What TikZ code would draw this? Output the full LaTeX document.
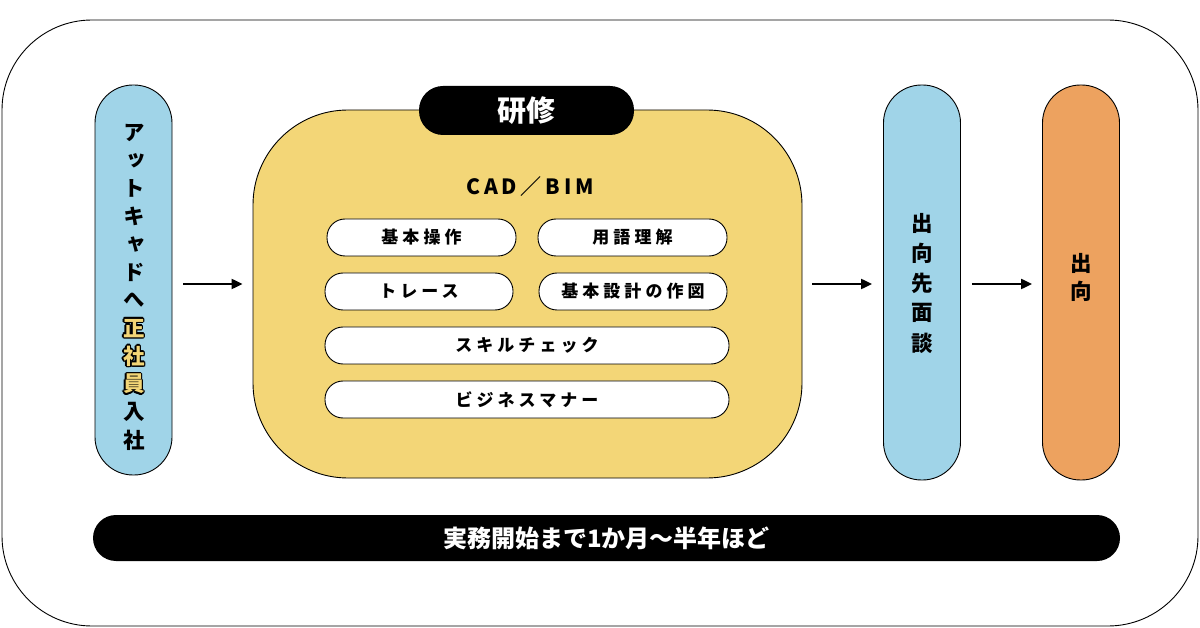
\documentclass[tikz,border=0pt]{standalone}
\usepackage{fontspec}
\setmainfont{Noto Sans CJK JP}
\newfontfamily\vfont{Noto Sans CJK JP}[RawFeature=+vert]
\usetikzlibrary{arrows.meta}
\definecolor{pblue}{HTML}{A0D4E8}
\definecolor{pyellow}{HTML}{F3D677}
\definecolor{porange}{HTML}{EDA25F}
\tikzset{
  frame/.style={draw=black, line width=0.9pt, rounded corners=90pt, minimum width=1196pt, minimum height=606pt},
  vpill/.style={draw=black, line width=0.9pt, rounded corners=38pt, minimum width=77pt},
  pill/.style={draw=black, line width=0.9pt, fill=white, rounded corners=18pt, minimum height=37pt,
    font=\bfseries\fontsize{17}{17}\selectfont\addfontfeatures{LetterSpace=24}},
  vtext/.style={font=\vfont\bfseries\fontsize{21.5}{21.5}\selectfont, inner sep=0pt},
  arr/.style={line width=2.2pt, -{Triangle[length=11pt,width=10pt]}},
}
\begin{document}
\begin{tikzpicture}[x=1pt,y=-1pt]
\useasboundingbox (0,0) rectangle (1200,628);
\node[frame] (F) at (600,323) {};
% left pill
\node[vpill, fill=pblue, minimum height=390pt] (L) at (133.5,280) {};
\foreach \ch [count=\i] in {ア,ッ,ト,キ,ャ,ド,へ} {
  \node[vtext] (t\i) at (134,{133+(\i-1)*27.9}) {\ch};
}
\foreach \ch [count=\i from 11] in {入,社} {
  \node[vtext] (t\i) at (134,{133+(\i-1)*27.9}) {\ch};
}
\foreach \ch [count=\i from 8] in {正,社,員} {
  \foreach \a in {0,30,...,330} {
    \node[vtext, text=black, shift={(\a:1.4pt)}] (o\i-\a) at (134,{133+(\i-1)*27.9}) {\ch};
  }
  \node[vtext, text=pyellow] (t\i) at (134,{133+(\i-1)*27.9}) {\ch};
}
% yellow box
\node[draw=black, line width=0.9pt, fill=pyellow, rounded corners=95pt, minimum width=549pt, minimum height=368pt] (Y) at (527.5,294) {};
\node[fill=black, rounded corners=24pt, minimum width=215pt, minimum height=49pt, text=white,
  font=\bfseries\fontsize{29}{29}\selectfont] (K) at (526.5,110.5) {研修};
\node[font=\bfseries\fontsize{21}{21}\selectfont\addfontfeatures{LetterSpace=18}] (cad) at (530,187) {CAD／BIM};
\node[pill, minimum width=189pt] (p1) at (421.5,237.5) {基本操作};
\node[pill, minimum width=189pt] (p2) at (632.5,237.5) {用語理解};
\node[pill, minimum width=188pt] (p3) at (419,291.5) {トレース};
\node[pill, minimum width=188pt] (p4) at (633,291.5) {基本設計の作図};
\node[pill, minimum width=404pt] (p5) at (527,345.5) {スキルチェック};
\node[pill, minimum width=404pt] (p6) at (527,399.5) {ビジネスマナー};
% right pills
\node[vpill, fill=pblue, minimum height=395pt] (B) at (922,282.5) {};
\foreach \ch [count=\i] in {出,向,先,面,談} {
  \node[vtext] (b\i) at (922,{223+(\i-1)*30}) {\ch};
}
\node[vpill, fill=porange, minimum height=395pt] (O) at (1081,282.5) {};
\foreach \ch [count=\i] in {出,向} {
  \node[vtext] (r\i) at (1081,{263+(\i-1)*28.5}) {\ch};
}
% arrows
\draw[arr, shorten <=11pt, shorten >=10pt] (L.east |- 0,284) -- (Y.west |- 0,284);
\draw[arr, shorten <=10pt, shorten >=11pt] (Y.east |- 0,284) -- (B.west |- 0,284);
\draw[arr, shorten <=11pt, shorten >=10pt] (B.east |- 0,284) -- (O.west |- 0,284);
% bottom bar
\node[fill=black, rounded corners=23pt, minimum width=1027pt, minimum height=46pt, text=white,
  font=\bfseries\fontsize{24}{24}\selectfont] (bar) at (606.5,538) {実務開始まで1か月〜半年ほど};
\end{tikzpicture}
\end{document}
